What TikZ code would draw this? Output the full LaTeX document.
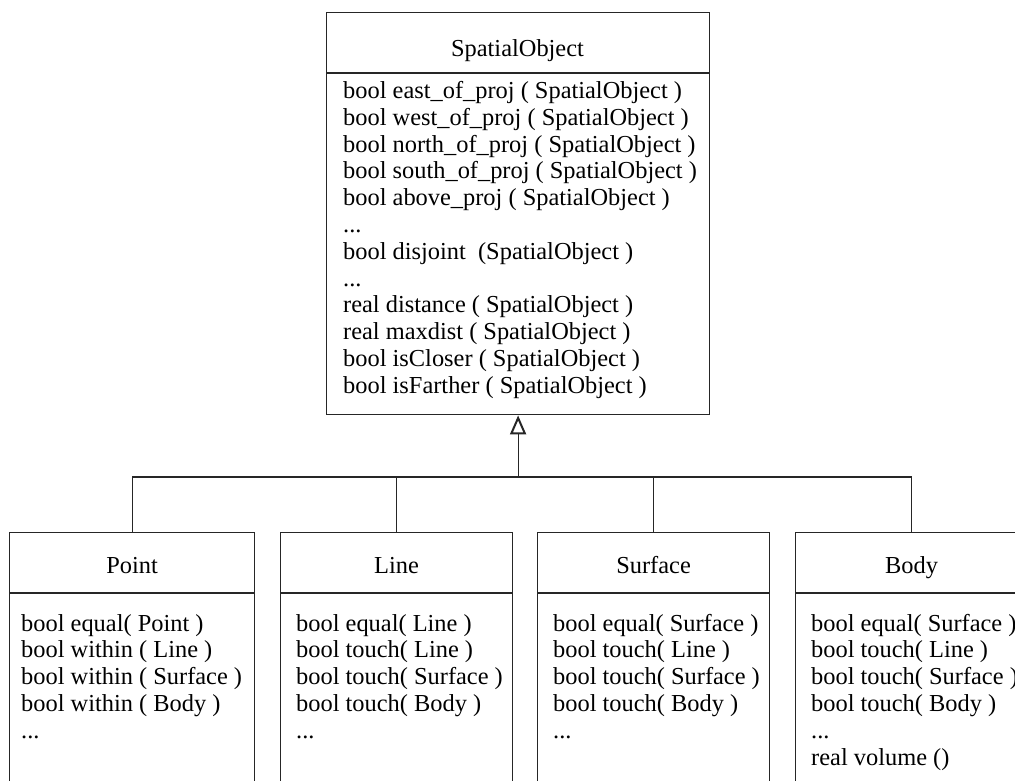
\documentclass[tikz,border=0pt]{standalone}
\usepackage{fontspec}
\setmainfont{Liberation Serif}
\usetikzlibrary{arrows.meta}
\newcommand\threedotsline{...}
\begin{document}
\begin{tikzpicture}[x=1pt,y=-1pt,
  boxline/.style={draw=black!85, line width=1.2pt},
  header/.style={boxline, anchor=north west, inner sep=0pt, minimum height=60pt},
  classbody/.style={boxline, anchor=north west, inner sep=0pt},
  txt/.style={inner sep=0pt, anchor=base west, font=\fontsize{24.4}{26.8}\selectfont},
  title/.style={inner sep=0pt, anchor=base, font=\fontsize{24.4}{26.8}\selectfont},
  conn/.style={draw=black!85, line width=1.2pt},
  inherit/.style={conn, -{Triangle[open, length=19pt, width=16pt, line width=2pt]}}
]
\useasboundingbox (0,0) rectangle (1015,780);
\clip (0,0) rectangle (1015,780);

% SpatialObject
\node[header, minimum width=383pt] (so-h) at (326,12) {};
\node[classbody, minimum width=383pt, minimum height=341pt] (so-b) at (so-h.south west) {};
\node[title] (so-t) at (517.5,56) {SpatialObject};
\foreach \t [count=\i from 0] in {
  bool east\_of\_proj ( SpatialObject ),
  bool west\_of\_proj ( SpatialObject ),
  bool north\_of\_proj ( SpatialObject ),
  bool south\_of\_proj ( SpatialObject ),
  bool above\_proj ( SpatialObject ),
  \threedotsline,
  bool disjoint~~(SpatialObject ),
  \threedotsline,
  real distance ( SpatialObject ),
  real maxdist ( SpatialObject ),
  bool isCloser ( SpatialObject ),
  bool isFarther ( SpatialObject )}
  \node[txt] (so-l\i) at (343,{98.5+26.8*\i}) {\t};

% Point
\node[header, minimum width=245pt] (pt-h) at (9,532) {};
\node[classbody, minimum width=245pt, minimum height=230pt] (pt-b) at (pt-h.south west) {};
\node[title] (pt-t) at (pt-h.center |- 0,573) {Point};
\foreach \t [count=\i from 0] in {
  bool equal( Point ),
  bool within ( Line ),
  bool within ( Surface ),
  bool within ( Body ),
  \threedotsline}
  \node[txt] (pt-l\i) at (21,{631+26.8*\i}) {\t};

% Line
\node[header, minimum width=232pt] (ln-h) at (280,532) {};
\node[classbody, minimum width=232pt, minimum height=230pt] (ln-b) at (ln-h.south west) {};
\node[title] (ln-t) at (ln-h.center |- 0,573) {Line};
\foreach \t [count=\i from 0] in {
  bool equal( Line ),
  bool touch( Line ),
  bool touch( Surface ),
  bool touch( Body ),
  \threedotsline}
  \node[txt] (ln-l\i) at (296,{631+26.8*\i}) {\t};

% Surface
\node[header, minimum width=232pt] (sf-h) at (537,532) {};
\node[classbody, minimum width=232pt, minimum height=230pt] (sf-b) at (sf-h.south west) {};
\node[title] (sf-t) at (sf-h.center |- 0,573) {Surface};
\foreach \t [count=\i from 0] in {
  bool equal( Surface ),
  bool touch( Line ),
  bool touch( Surface ),
  bool touch( Body ),
  \threedotsline}
  \node[txt] (sf-l\i) at (553,{631+26.8*\i}) {\t};

% Body
\node[header, minimum width=232pt] (bd-h) at (795,532) {};
\node[classbody, minimum width=232pt, minimum height=230pt] (bd-b) at (bd-h.south west) {};
\node[title] (bd-t) at (bd-h.center |- 0,573) {Body};
\foreach \t [count=\i from 0] in {
  bool equal( Surface ),
  bool touch( Line ),
  bool touch( Surface ),
  bool touch( Body ),
  \threedotsline,
  real volume ()}
  \node[txt] (bd-l\i) at (811,{631+26.8*\i}) {\t};

% generalization connectors
\coordinate (bar) at (so-b.south |- 0,477);
\draw[conn] (pt-h.north) |- (bar);
\draw[conn] (ln-h.north) |- (bar);
\draw[conn] (sf-h.north) |- (bar);
\draw[conn] (bd-h.north) |- (bar);
\draw[inherit] (bar) -- (so-b.south);
\end{tikzpicture}
\end{document}
